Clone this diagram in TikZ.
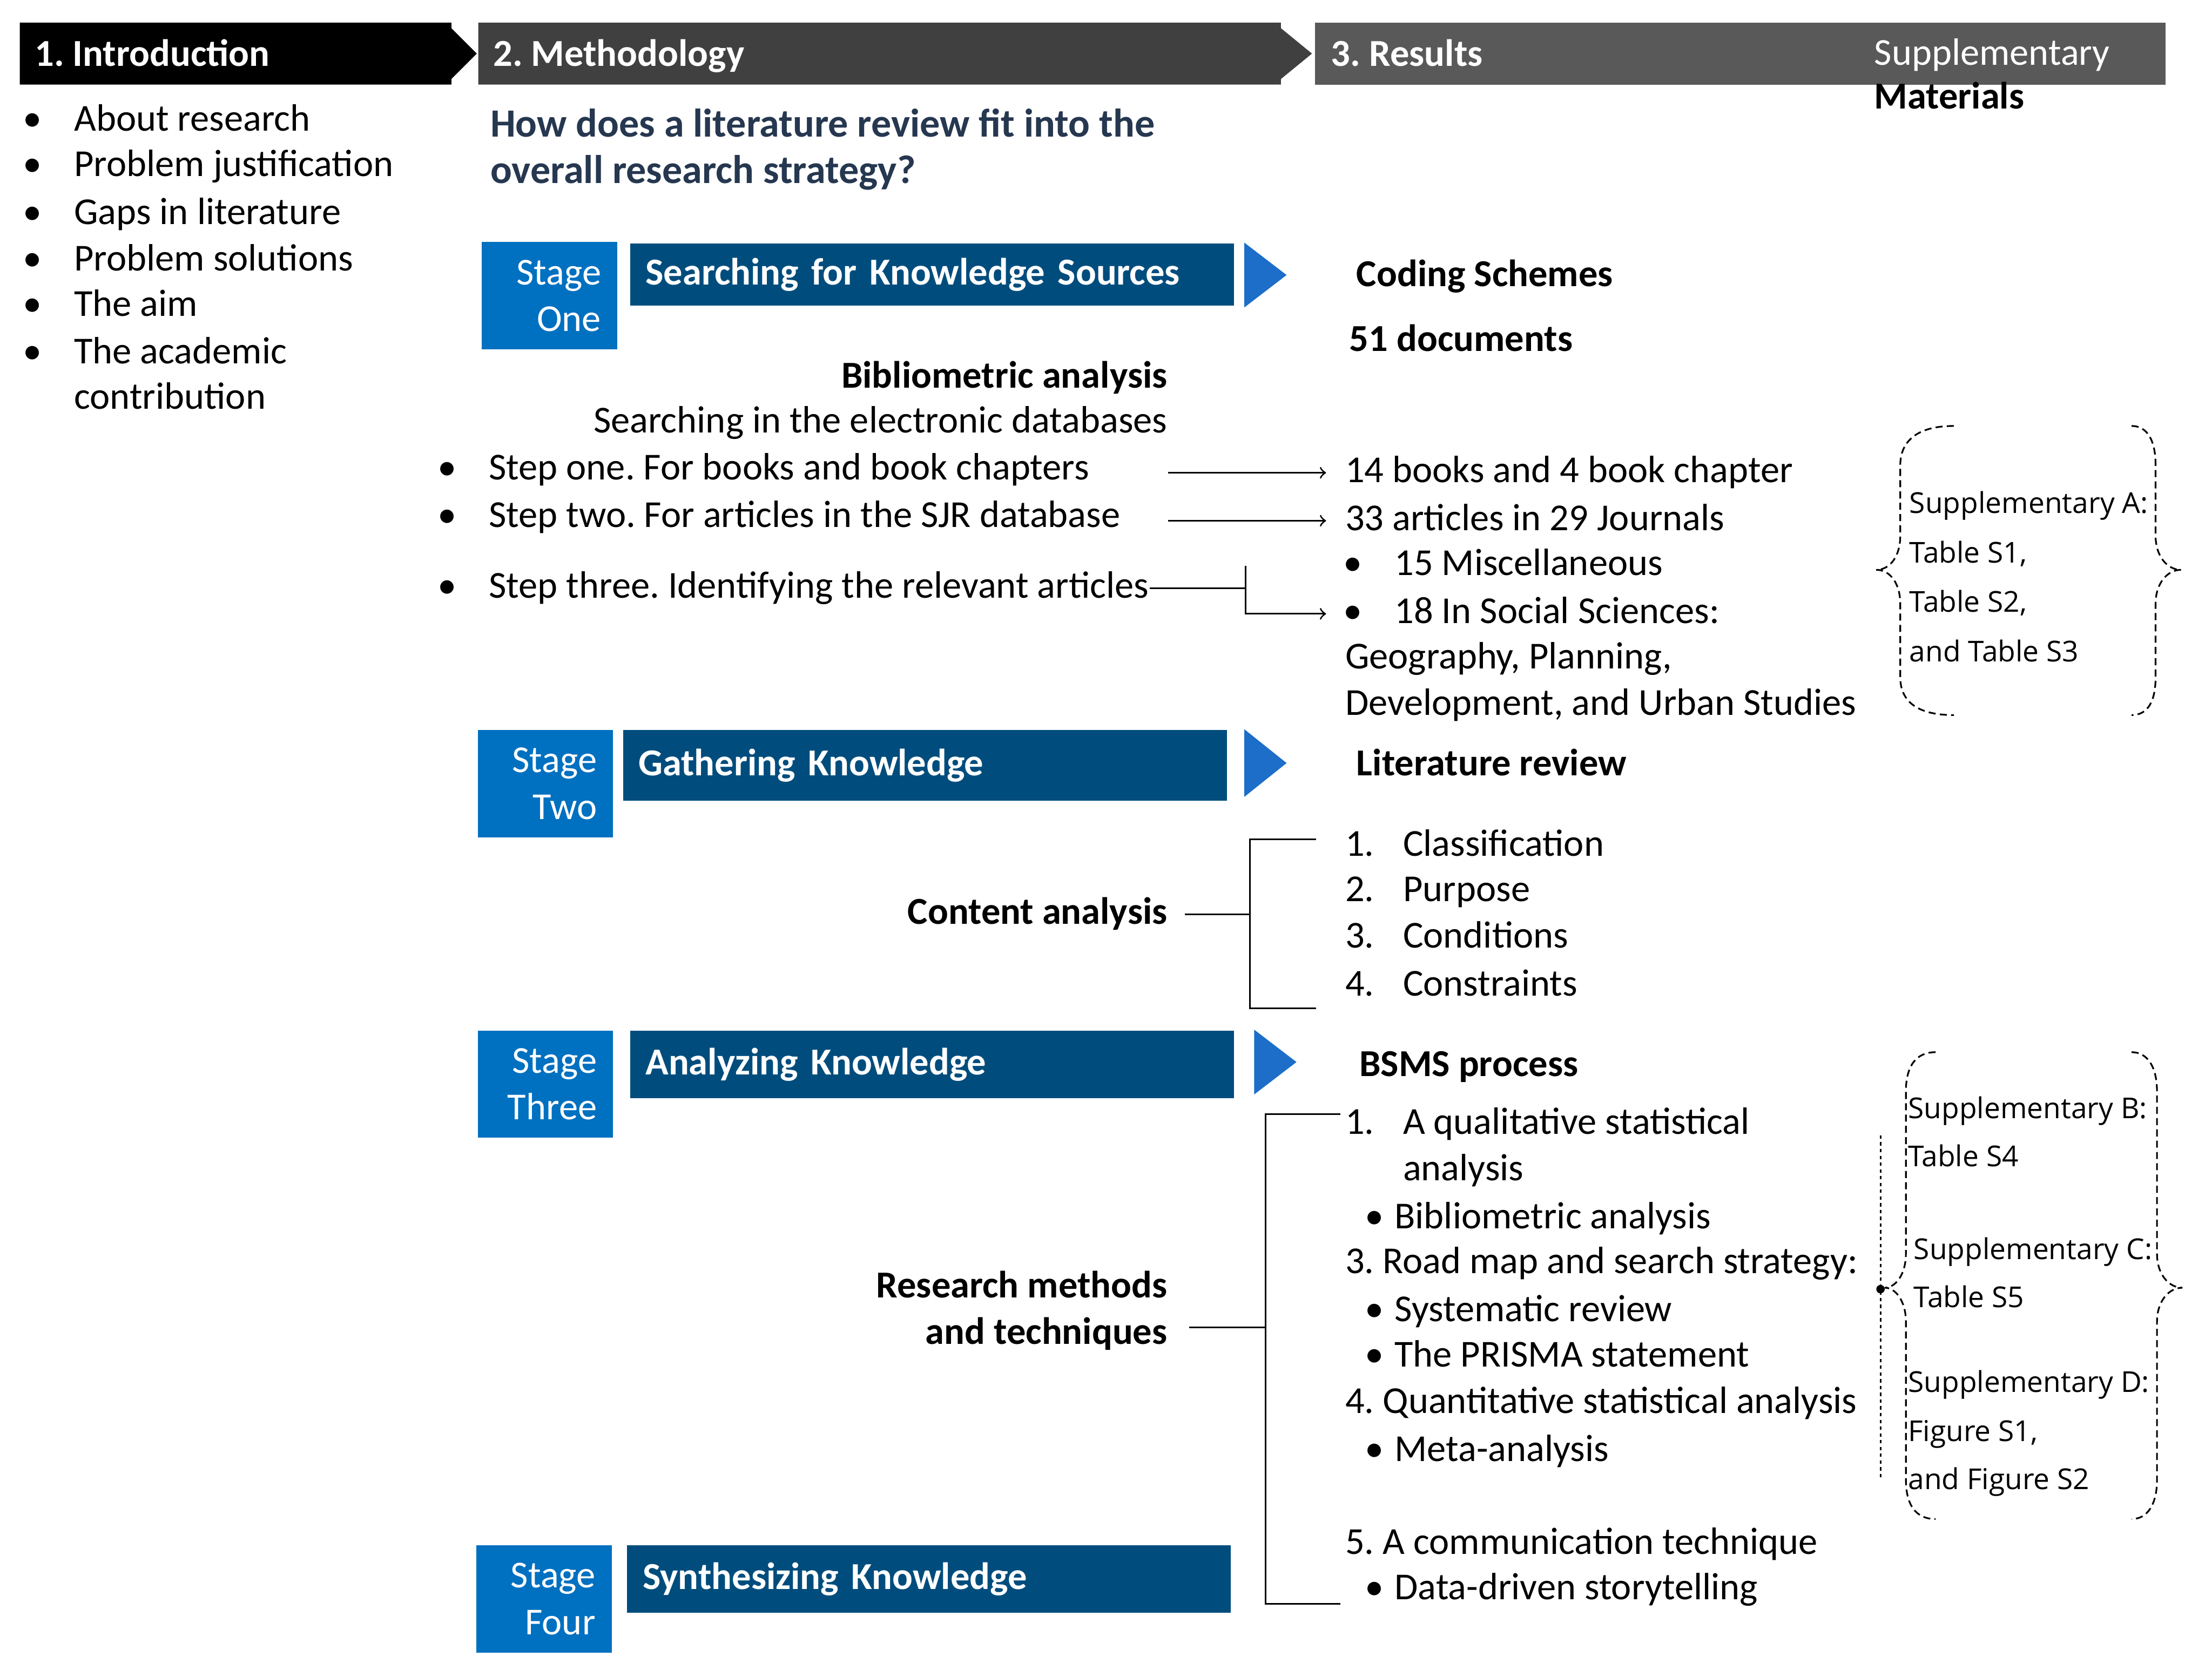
\documentclass[tikz,border=0pt]{standalone}
\usepackage{fontspec}
\setmainfont{Carlito}
\newfontfamily\suppfont{Open Sans}
\frenchspacing

\definecolor{methgray}{RGB}{64,64,64}
\definecolor{resgray}{RGB}{89,89,89}
\definecolor{stageblue}{RGB}{0,112,192}
\definecolor{barblue}{RGB}{0,77,125}
\definecolor{tipblue}{RGB}{28,110,200}
\definecolor{questcol}{RGB}{38,55,80}

\newcommand{\itemmark}[2]{\makebox[#1][l]{#2}}

\tikzset{every picture/.style={line width=0.6pt}}
\tikzset{
  txt/.style={inner sep=0pt, anchor=base west, text height=9.5pt, text depth=2.7pt, font=\fontsize{13.5}{16.5}\selectfont},
  btxt/.style={txt, font=\fontsize{13.5}{16.5}\selectfont\bfseries},
  rtxt/.style={txt, anchor=base east},
  rbtxt/.style={btxt, anchor=base east},
  headtxt/.style={btxt, text=white},
  stagebox/.style={anchor=north west, fill=stageblue, text=white, minimum width=48pt, minimum height=38pt, text width=36.5pt, align=right, inner sep=0pt, font=\fontsize{13.5}{16.5}\selectfont},
  stagebar/.style={anchor=north west, fill=barblue, text=white, minimum width=214pt, text width=203pt, inner xsep=5.5pt, inner ysep=0pt, align=left, font=\fontsize{13.5}{16.5}\selectfont\bfseries},
  supptxt/.style={inner sep=0pt, anchor=base west, font=\suppfont\fontsize{10.2}{12}\selectfont},
  conn/.style={line width=0.6pt},
  suppbrace/.style={line width=0.6pt, dash pattern={on 2.5pt off 1.5pt}},
}

\begin{document}
\begin{tikzpicture}[x=0.5pt,y=0.5pt,yscale=-1,xscale=1]
		\useasboundingbox (0,0) rectangle (1568,1189);
		
		% Header bars
		\fill[black] (14,16) -- (320,16) -- (320,20) -- (338,38) -- (320,56) -- (320,60) -- (14,60) -- cycle;
		\fill[methgray] (339,16) -- (908,16) -- (908,20) -- (930,38) -- (908,56) -- (908,60) -- (339,60) -- cycle;
		\fill[resgray] (932,16) rectangle (1535,60);
		\node[headtxt] (intro) at (24,47) {1. Introduction};
		\node[headtxt] (meth) at (349,47) {2. Methodology};
		\node[headtxt] (res) at (943,47) {3. Results};
		\node[txt, text=white] (supphead) at (1328,46) {Supplementary};
		\node[btxt] (suppmat) at (1328,77) {Materials};
		
		% Introduction list
		\node[txt] (ab) at (15.5,93) {\itemmark{18.25pt}{•}About research};
		\node[txt] (pj) at (15.5,125) {\itemmark{18.25pt}{•}Problem justification};
		\node[txt] (gl) at (15.5,159) {\itemmark{18.25pt}{•}Gaps in literature};
		\node[txt] (ps) at (15.5,192) {\itemmark{18.25pt}{•}Problem solutions};
		\node[txt] (aim) at (15.5,224) {\itemmark{18.25pt}{•}The aim};
		\node[txt] (acad) at (15.5,258) {\itemmark{18.25pt}{•}The academic};
		\node[txt] (contr) at (52,290) {contribution};
		
		% Question
		\node[btxt, text=questcol, font=\fontsize{14.2}{17}\selectfont\bfseries] (q1) at (347,97) {How does a literature review fit into the};
		\node[btxt, text=questcol, font=\fontsize{14.2}{17}\selectfont\bfseries] (q2) at (347,130) {overall research strategy?};
		
		% Stage one
		\node[stagebox] (st1) at (341,171) {Stage\\One};
		\node[stagebar, minimum height=22pt] (bar1) at (446,172) {Searching for Knowledge Sources};
		\fill[tipblue] (882,172) -- (912,195) -- (882,218) -- cycle;
		\node[btxt] (cod) at (961,203) {Coding Schemes};
		\node[btxt] (doc) at (956,249) {51 documents};
		
		\node[rbtxt] (bib) at (828,275) {Bibliometric analysis};
		\node[rtxt] (sed) at (828,307) {Searching in the electronic databases};
		\node[txt] (s1) at (309.5,340) {\itemmark{18.25pt}{•}Step one. For books and book chapters};
		\node[txt] (s2) at (309.5,374) {\itemmark{18.25pt}{•}Step two. For articles in the SJR database};
		\node[txt] (s3) at (309.5,424) {\itemmark{18.25pt}{•}Step three. Identifying the relevant articles};
		
		\node[txt] (r1) at (953,342) {14 books and 4 book chapter};
		\node[txt] (r2) at (953,376) {33 articles in 29 Journals};
		\node[txt] (r3) at (951.5,408) {\itemmark{18.25pt}{•}15 Miscellaneous};
		\node[txt] (r4) at (951.5,442) {\itemmark{18.25pt}{•}18 In Social Sciences:};
		\node[txt] (r5) at (953,474) {Geography, Planning,};
		\node[txt] (r6) at (953,507) {Development, and Urban Studies};
		
		\coordinate (j3) at (883,416);
		\draw[conn,->,shorten >=6.5pt] (bib.east |- r1.west) -- (r1.west);
		\draw[conn,->,shorten >=6.5pt] (bib.east |- r2.west) -- (r2.west);
		\draw[conn] (s3.east) -- (j3 |- s3.east);
		\draw[conn,->,shorten >=5.75pt] (j3 |- r3.west) -- (j3 |- r4.west) -- (r4.west);
		
		% Supplementary A
		\node[supptxt] (sa1) at (1353,364) {Supplementary A:};
		\node[supptxt] (sa2) at (1353,399) {Table S1,};
		\node[supptxt] (sa3) at (1353,434) {Table S2,};
		\node[supptxt] (sa4) at (1353,469) {and Table S3};
		\draw[suppbrace] (1385,302) .. controls (1360,302) and (1347,312) .. (1347,330) -- (1347,380) .. controls (1347,394) and (1340,404) .. (1330,404) .. controls (1340,404) and (1347,414) .. (1347,428) -- (1347,480) .. controls (1347,498) and (1360,507) .. (1385,507);
		\draw[suppbrace] (1511,302) .. controls (1522,302) and (1528,312) .. (1528,330) -- (1528,380) .. controls (1528,394) and (1536,404) .. (1546,404) .. controls (1536,404) and (1528,414) .. (1528,428) -- (1528,480) .. controls (1528,498) and (1522,507) .. (1511,507);
		
		% Stage two
		\node[stagebox] (st2) at (338,517) {Stage\\Two};
		\node[stagebar, minimum height=25pt] (bar2) at (441,517) {Gathering Knowledge};
		\fill[tipblue] (882,517) -- (912,541) -- (882,565) -- cycle;
		\node[btxt] (lit) at (961,550) {Literature review};
		
		\node[rbtxt] (ca) at (828,655) {Content analysis};
		\node[txt] (c1) at (953,607) {\itemmark{20.5pt}{1.}Classification};
		\node[txt] (c2) at (953,639) {\itemmark{20.5pt}{2.}Purpose};
		\node[txt] (c3) at (953,672) {\itemmark{20.5pt}{3.}Conditions};
		\node[txt] (c4) at (953,706) {\itemmark{20.5pt}{4.}Constraints};
		
		\coordinate (cj) at (886,651);
		\coordinate (ct) at (933,595);
		\coordinate (cb) at (933,715);
		\draw[conn,shorten <=6pt] (ca.east) -- (ca.east -| cj);
		\draw[conn] (ct) -| (cj) |- (cb);
		
		% Stage three
		\node[stagebox] (st3) at (338,730) {Stage\\Three};
		\node[stagebar, minimum height=24pt] (bar3) at (446,730) {Analyzing Knowledge};
		\fill[tipblue] (889,730) -- (919,753) -- (889,776) -- cycle;
		\node[btxt] (bsms) at (963,763) {BSMS process};
		
		\node[rbtxt] (rm1) at (828,920) {Research methods};
		\node[rbtxt] (rm2) at (828,953) {and techniques};
		
		\node[txt] (b1) at (953,804) {\itemmark{20.5pt}{1.}A qualitative statistical};
		\node[txt] (b2) at (994,837) {analysis};
		\node[txt] (b3) at (967,871) {\itemmark{10.5pt}{•}Bibliometric analysis};
		\node[txt] (b4) at (953,903) {3. Road map and search strategy:};
		\node[txt] (b5) at (967,937) {\itemmark{10.5pt}{•}Systematic review};
		\node[txt] (b6) at (967,969) {\itemmark{10.5pt}{•}The PRISMA statement};
		\node[txt] (b7) at (953,1002) {4. Quantitative statistical analysis};
		\node[txt] (b8) at (967,1036) {\itemmark{10.5pt}{•}Meta-analysis};
		\node[txt] (b9) at (953,1102) {5. A communication technique};
		\node[txt] (b10) at (967,1134) {\itemmark{10.5pt}{•}Data-driven storytelling};
		
		\coordinate (rj) at (897,941);
		\coordinate (rt) at (950,790);
		\coordinate (rb) at (950,1137);
		\draw[conn,shorten <=7.5pt] (rm2.east |- rj) -- (rj);
		\draw[conn] (rt) -| (rj) |- (rb);
		
		% Supplementary B, C, D
		\draw[line width=0.6pt, dash pattern={on 1.2pt off 1.2pt}] (1333,805) -- (1333,1048);
		\fill (1333,914) circle (3);
		\node[supptxt] (sb1) at (1352,793) {Supplementary B:};
		\node[supptxt] (sb2) at (1352,827) {Table S4};
		\node[supptxt] (sc1) at (1356,893) {Supplementary C:};
		\node[supptxt] (sc2) at (1356,927) {Table S5};
		\node[supptxt] (sd1) at (1352,987) {Supplementary D:};
		\node[supptxt] (sd2) at (1352,1022) {Figure S1,};
		\node[supptxt] (sd3) at (1352,1056) {and Figure S2};
		\draw[suppbrace] (1372,746) .. controls (1358,746) and (1351,756) .. (1351,774) -- (1351,889) .. controls (1351,903) and (1344,913) .. (1336,913) .. controls (1344,913) and (1351,923) .. (1351,937) -- (1351,1049) .. controls (1351,1067) and (1358,1077) .. (1372,1077);
		\draw[suppbrace] (1511,746) .. controls (1522,746) and (1529,756) .. (1529,774) -- (1529,889) .. controls (1529,903) and (1537,913) .. (1547,913) .. controls (1537,913) and (1529,923) .. (1529,937) -- (1529,1049) .. controls (1529,1067) and (1522,1077) .. (1511,1077);
		
		% Stage four
		\node[stagebox] (st4) at (337,1095) {Stage\\Four};
		\node[stagebar, minimum height=24pt] (bar4) at (444,1095) {Synthesizing Knowledge};
		
	\end{tikzpicture}
\end{document}
